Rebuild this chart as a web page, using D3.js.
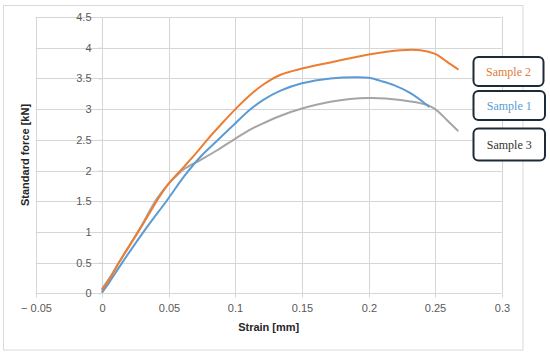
<!DOCTYPE html>
<html>
<head>
<meta charset="utf-8">
<script src="https://cdn.jsdelivr.net/npm/d3@7"></script>
<style>
  html, body { margin: 0; padding: 0; background: #ffffff; }
  svg { display: block; }
</style>
</head>
<body>
<svg id="chart" width="550" height="355"></svg>
<script>
// ---- Data ----
const seriesNames = ["Sample 1", "Sample 2", "Sample 3"];

const sample1Strain = [0, 0.005, 0.015, 0.031, 0.0488, 0.0613, 0.0736, 0.087, 0.1, 0.1115, 0.121, 0.1339, 0.15, 0.1714, 0.1914, 0.2, 0.209, 0.219, 0.2315, 0.2436, 0.2452];
const sample1Force  = [0.02, 0.17, 0.5, 1.0, 1.52, 1.9, 2.22, 2.5, 2.77, 3.0, 3.15, 3.3, 3.42, 3.5, 3.52, 3.51, 3.46, 3.39, 3.26, 3.07, 3.04];

const sample2Strain = [0, 0.006, 0.0125, 0.027, 0.0438, 0.05, 0.0613, 0.07, 0.0788, 0.09, 0.1, 0.11, 0.121, 0.1339, 0.15, 0.1714, 0.2, 0.224, 0.239, 0.25, 0.259, 0.267];
const sample2Force  = [0.06, 0.25, 0.5, 1.0, 1.6, 1.79, 2.06, 2.27, 2.5, 2.77, 3.0, 3.21, 3.4, 3.56, 3.66, 3.76, 3.89, 3.96, 3.96, 3.9, 3.77, 3.65];

const sample3Strain = [0, 0.006, 0.0125, 0.0275, 0.0413, 0.05, 0.0565, 0.0613, 0.0736, 0.0863, 0.1, 0.1115, 0.121, 0.135, 0.15, 0.1714, 0.2, 0.224, 0.2436, 0.25, 0.259, 0.267];
const sample3Force  = [0.08, 0.27, 0.5, 1.03, 1.55, 1.79, 1.93, 2.02, 2.17, 2.33, 2.52, 2.67, 2.77, 2.9, 3.01, 3.12, 3.18, 3.15, 3.07, 3.0, 2.82, 2.65];

const xTickValues = [-0.05, 0, 0.05, 0.1, 0.15, 0.2, 0.25, 0.3];
const xTickLabels = ["\u2212 0.05", "0", "0.05", "0.1", "0.15", "0.2", "0.25", "0.3"];
const yTickValues = [0, 0.5, 1, 1.5, 2, 2.5, 3, 3.5, 4, 4.5];
const yTickLabels = ["0", "0.5", "1", "1.5", "2", "2.5", "3", "3.5", "4", "4.5"];

const xTitle = "Strain [mm]";
const yTitle = "Standard force [kN]";

// legend order top to bottom as in the picture
const legendOrder = ["Sample 2", "Sample 1", "Sample 3"];

// ---- Styles ----
const lineColors = { "Sample 1": "#5b9bd5", "Sample 2": "#ed7d31", "Sample 3": "#a5a5a5" };
const legendTextColors = { "Sample 1": "#5b9bd5", "Sample 2": "#e07b39", "Sample 3": "#333333" };
const gridColor = "#d6d6d6";

const series = [
  { name: "Sample 1", pts: sample1Strain.map((s, i) => [s, sample1Force[i]]) },
  { name: "Sample 2", pts: sample2Strain.map((s, i) => [s, sample2Force[i]]) },
  { name: "Sample 3", pts: sample3Strain.map((s, i) => [s, sample3Force[i]]) }
];

const svg = d3.select("#chart");

// outer frame
svg.append("rect")
  .attr("x", 3.5).attr("y", 5.5)
  .attr("width", 519.5).attr("height", 344.5)
  .attr("fill", "#ffffff")
  .attr("stroke", "#d9d9d9").attr("stroke-width", 1);

const x = d3.scaleLinear().domain([-0.05, 0.3]).range([35.7, 501.7]);
const y = d3.scaleLinear().domain([0, 4.5]).range([293.3, 17]);

// gridlines
const grid = svg.append("g");
grid.selectAll("line.v").data(xTickValues).join("line")
  .attr("class", "v")
  .attr("x1", d => Math.round(x(d)) + 0.5).attr("x2", d => Math.round(x(d)) + 0.5)
  .attr("y1", y(4.5)).attr("y2", y(0))
  .attr("stroke", gridColor).attr("stroke-width", 1);
grid.selectAll("line.h").data(yTickValues).join("line")
  .attr("class", "h")
  .attr("x1", x(-0.05)).attr("x2", x(0.3))
  .attr("y1", d => Math.round(y(d)) + 0.5).attr("y2", d => Math.round(y(d)) + 0.5)
  .attr("stroke", gridColor).attr("stroke-width", 1);

// x axis (crosses at force 0)
const xAxis = d3.axisBottom(x)
  .tickValues(xTickValues)
  .tickFormat((d, i) => xTickLabels[i])
  .tickSize(4).tickPadding(7);
const gx = svg.append("g")
  .attr("transform", `translate(0,${Math.round(y(0)) + 0.5})`)
  .call(xAxis);
gx.select(".domain").remove();
gx.selectAll(".tick line").attr("stroke", gridColor);
gx.selectAll(".tick").attr("transform", d => `translate(${Math.round(x(d)) + 0.5},0)`);
gx.selectAll(".tick text")
  .attr("font-family", "'Liberation Sans', Arial, sans-serif")
  .attr("font-size", 11).attr("fill", "#595959");

// y axis (crosses at strain 0)
const yAxis = d3.axisLeft(y)
  .tickValues(yTickValues)
  .tickFormat((d, i) => yTickLabels[i])
  .tickSize(4).tickPadding(7);
const gy = svg.append("g")
  .attr("transform", `translate(${Math.round(x(0)) + 0.5},0)`)
  .call(yAxis);
gy.select(".domain").remove();
gy.selectAll(".tick line").attr("stroke", gridColor);
gy.selectAll(".tick text")
  .attr("font-family", "'Liberation Sans', Arial, sans-serif")
  .attr("font-size", 11).attr("fill", "#595959");

// series lines
const line = d3.line()
  .x(d => x(d[0])).y(d => y(d[1]))
  .curve(d3.curveCatmullRom.alpha(0.5));

svg.append("g").selectAll("path").data([series[2], series[0], series[1]]).join("path")
  .attr("d", d => line(d.pts))
  .attr("fill", "none")
  .attr("stroke", d => lineColors[d.name])
  .attr("stroke-width", 2)
  .attr("stroke-linejoin", "round")
  .attr("stroke-linecap", "round");

// axis titles
svg.append("text")
  .attr("x", 268.7).attr("y", 330.5)
  .attr("text-anchor", "middle")
  .attr("font-family", "'Liberation Sans', Arial, sans-serif")
  .attr("font-size", 11).attr("font-weight", "bold")
  .attr("fill", "#262626")
  .text(xTitle);

svg.append("text")
  .attr("transform", "translate(29,155) rotate(-90)")
  .attr("text-anchor", "middle")
  .attr("font-family", "'Liberation Sans', Arial, sans-serif")
  .attr("font-size", 11).attr("font-weight", "bold")
  .attr("fill", "#262626")
  .text(yTitle);

// legend boxes (label callouts)
const legendBoxes = [
  { x: 473.5, y: 57, w: 70, h: 29 },
  { x: 473.5, y: 91, w: 71.5, h: 29 },
  { x: 473.5, y: 128.5, w: 71.5, h: 32 }
];
const lg = svg.append("g");
legendOrder.forEach((name, i) => {
  const b = legendBoxes[i];
  lg.append("rect")
    .attr("x", b.x).attr("y", b.y).attr("width", b.w).attr("height", b.h)
    .attr("rx", 5).attr("ry", 5)
    .attr("fill", "#ffffff")
    .attr("stroke", "#1c2b39").attr("stroke-width", 2);
  lg.append("text")
    .attr("x", b.x + b.w / 2).attr("y", b.y + b.h / 2)
    .attr("dy", "0.35em")
    .attr("text-anchor", "middle")
    .attr("font-family", "'Liberation Serif', 'DejaVu Serif', serif")
    .attr("font-size", 12)
    .attr("fill", legendTextColors[name])
    .text(name);
});
</script>
</body>
</html>
